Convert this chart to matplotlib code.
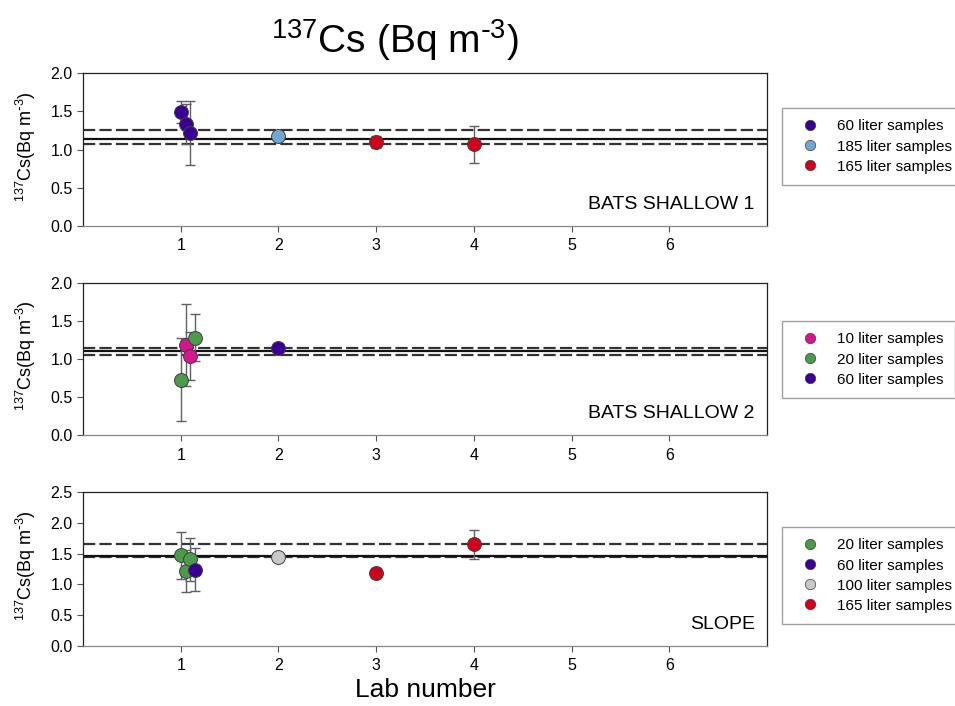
import matplotlib
matplotlib.use("Agg")
import matplotlib.pyplot as plt
from matplotlib.lines import Line2D

plt.rcParams['font.family'] = ['Liberation Sans', 'DejaVu Sans']
plt.rcParams['mathtext.default'] = 'regular'

labs = [1, 2, 3, 4, 5, 6]

# sample sizes and their marker colours
sample_colors = {
    '10': '#d4168f',
    '20': '#4c9a4c',
    '60': '#3a0096',
    '100': '#c8c8c8',
    '165': '#d0021b',
    '185': '#6fa8d2',
}

# BATS shallow 1
s1_x = [1.0, 1.05, 1.10, 2, 3, 4]
s1_y = [1.49, 1.33, 1.22, 1.17, 1.10, 1.07]
s1_err = [0.15, 0.26, 0.42, 0.04, 0.08, 0.24]
s1_size = ['60', '60', '60', '185', '165', '165']
s1_legend = ['60', '185', '165']
s1_lines = [1.14, 1.25, 1.07]   # mean, upper, lower

# BATS shallow 2
s2_x = [1.0, 1.05, 1.10, 1.15, 2]
s2_y = [0.73, 1.19, 1.04, 1.28, 1.15]
s2_err = [0.55, 0.54, 0.32, 0.31, 0.05]
s2_size = ['20', '10', '10', '20', '60']
s2_legend = ['10', '20', '60']
s2_lines = [1.10, 1.15, 1.05]

# Slope
s3_x = [1.0, 1.05, 1.10, 1.15, 2, 3, 4]
s3_y = [1.47, 1.22, 1.41, 1.24, 1.45, 1.19, 1.65]
s3_err = [0.38, 0.34, 0.35, 0.35, 0.03, 0.07, 0.24]
s3_size = ['20', '20', '20', '60', '100', '165', '165']
s3_legend = ['20', '60', '100', '165']
s3_lines = [1.46, 1.65, 1.44]

panels = [
    (s1_x, s1_y, s1_err, s1_size, s1_legend, s1_lines, 'BATS SHALLOW 1', 2.0),
    (s2_x, s2_y, s2_err, s2_size, s2_legend, s2_lines, 'BATS SHALLOW 2', 2.0),
    (s3_x, s3_y, s3_err, s3_size, s3_legend, s3_lines, 'SLOPE', 2.5),
]

W, H = 955, 706
fig = plt.figure(figsize=(W / 100, H / 100), dpi=100)

# (top, bottom) pixel rows of each panel, and legend top row
boxes = [(73, 226, 108), (283, 435, 321), (492, 646, 527)]
left, right = 83, 767

for (x, y, err, size, leg, lines, name, ymax), (top, bot, legtop) in zip(panels, boxes):
    ax = fig.add_axes([left / W, 1 - bot / H, (right - left) / W, (bot - top) / H])

    mean, upper, lower = lines
    for v in (upper, lower):
        ax.axhline(v, color='#333333', lw=1.6, dashes=(5.5, 1.9), zorder=1)
    ax.axhline(mean, color='#111111', lw=1.6, zorder=1.5)

    ax.errorbar(x, y, yerr=err, fmt='none', ecolor='#606060', elinewidth=1,
                capsize=3.5, capthick=1, zorder=2)
    for xi, yi, si in zip(x, y, size):
        ax.plot(xi, yi, 'o', ms=10, mfc=sample_colors[si], mec='#404040',
                mew=0.7, zorder=3)

    ax.set_xlim(0, 7)
    ax.set_ylim(0, ymax)
    ax.set_xticks(labs)
    nt = int(ymax / 0.5) + 1
    ax.set_yticks([i * 0.5 for i in range(nt)])
    ax.set_yticklabels([f'{i * 0.5:.1f}' for i in range(nt)])
    ax.tick_params(direction='out', length=4, width=0.8, labelsize=11.5,
                   color='#555555')
    ax.tick_params(axis='x', pad=5)
    for sp in ax.spines.values():
        sp.set_linewidth(0.9)
        sp.set_color('#222222')
    ax.spines['bottom'].set_color('#888888')

    ax.set_ylabel(r'$^{137}$Cs(Bq m$^{\text{-}3}$)', fontsize=13)
    ax.yaxis.set_label_coords(-0.066, 0.52)

    ax.text(0.982, 0.085, name, transform=ax.transAxes, ha='right', va='bottom',
            fontsize=14)

    handles = [Line2D([], [], ls='none', marker='o', ms=7.5, mfc=sample_colors[s],
                      mec='#404040', mew=0.5) for s in leg]
    labels = [f'{s} liter samples' for s in leg]
    lg = fig.legend(handles, labels, loc='upper left',
                    bbox_to_anchor=(782 / W, 1 - legtop / H),
                    fontsize=11, frameon=True, fancybox=False, edgecolor='#888888',
                    handlelength=2.1, handletextpad=0.75, labelspacing=0.4,
                    borderpad=0.75, borderaxespad=0)
    lg.get_frame().set_linewidth(1.0)

fig.text(395 / W, 1 - 40 / H, r'$^{137}$Cs (Bq m$^{\text{-}3}$)', ha='center',
         va='center', fontsize=28)
fig.text(425 / W, 1 - 690 / H, 'Lab number', ha='center', va='center', fontsize=19)

fig.savefig('out.png', dpi=100)
